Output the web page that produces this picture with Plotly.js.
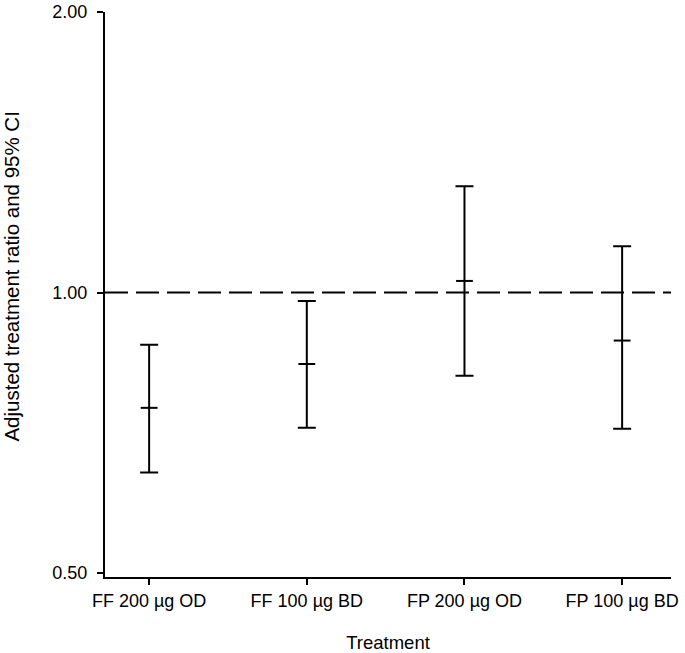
<!DOCTYPE html>
<html>
<head>
<meta charset="utf-8">
<script src="https://cdn.plot.ly/plotly-3.0.1.min.js"></script>
<style>
  body { margin: 0; background: #fff; }
  #chart { width: 685px; height: 653px; }
</style>
</head>
<body>
<div id="chart"></div>
<script>
var treatments = ['FF 200 µg OD', 'FF 100 µg BD', 'FP 200 µg OD', 'FP 100 µg BD'];
var ratio = [0.752, 0.838, 1.029, 0.888];
var ciLow = [0.641, 0.716, 0.814, 0.714];
var ciHigh = [0.879, 0.979, 1.300, 1.121];
var yTicks = [0.5, 1, 2];
var yTickLabels = ['0.50', '1.00', '2.00'];

var upper = ratio.map(function (r, i) { return ciHigh[i] - r; });
var lower = ratio.map(function (r, i) { return r - ciLow[i]; });

var font = "'Liberation Sans', Arial, Helvetica, sans-serif";

var trace = {
    x: treatments,
    y: ratio,
    type: 'scatter',
    mode: 'markers',
    marker: { symbol: 'line-ew', size: 12, color: '#000', line: { width: 2, color: '#000' } },
    error_y: {
        type: 'data',
        symmetric: false,
        array: upper,
        arrayminus: lower,
        width: 9,
        thickness: 2,
        color: '#000'
    },
    hoverinfo: 'skip',
    showlegend: false
};

var layout = {
    width: 685,
    height: 653,
    margin: { l: 105, r: 14, t: 12, b: 76 },
    paper_bgcolor: '#fff',
    plot_bgcolor: '#fff',
    font: { family: font, size: 18, color: '#000' },
    xaxis: {
        type: 'category',
        categoryorder: 'array',
        categoryarray: treatments,
        range: [-0.28, 3.31],
        showline: true,
        linecolor: '#000',
        linewidth: 2,
        ticks: 'outside',
        ticklen: 6,
        tickwidth: 2,
        tickcolor: '#000',
        showgrid: false,
        zeroline: false,
        title: { text: 'Treatment', font: { size: 18.5 }, standoff: 26 }
    },
    yaxis: {
        type: 'log',
        range: [Math.log10(0.5) - 0.0043, Math.log10(2)],
        tickvals: yTicks,
        ticktext: yTickLabels,
        showline: true,
        linecolor: '#000',
        linewidth: 2,
        ticks: 'outside',
        ticklen: 6,
        tickwidth: 2,
        tickcolor: '#000',
        ticklabelstandoff: 6,
        showgrid: false,
        zeroline: false
    },
    shapes: [{
        type: 'line',
        xref: 'paper',
        yref: 'y',
        x0: 0,
        x1: 1,
        y0: 1,
        y1: 1,
        line: { color: '#000', width: 2, dash: '23px,8px' }
    }],
    annotations: [{
        text: 'Adjusted treatment ratio and 95% CI',
        xref: 'paper',
        yref: 'paper',
        x: -0.165,
        y: 0.531,
        xanchor: 'center',
        yanchor: 'middle',
        textangle: -90,
        showarrow: false,
        font: { size: 20.5 }
    }]
};

Plotly.newPlot('chart', [trace], layout, { displayModeBar: false, staticPlot: true });
</script>
</body>
</html>
